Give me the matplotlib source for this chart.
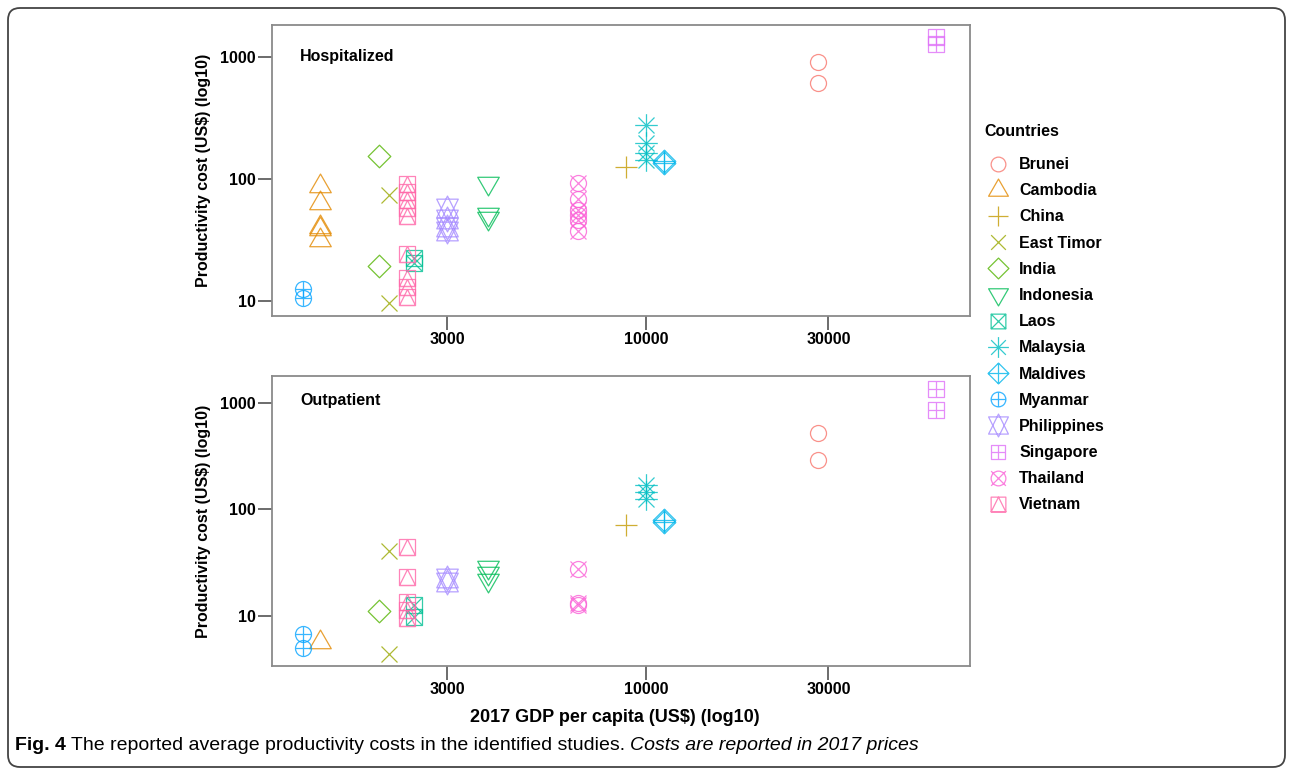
import numpy as np
import matplotlib
matplotlib.use('Agg')
import matplotlib.pyplot as plt
from matplotlib.path import Path
from matplotlib.lines import Line2D
from matplotlib.patches import FancyBboxPatch
from matplotlib.transforms import IdentityTransform

plt.rcParams['font.family'] = ['Liberation Sans', 'DejaVu Sans']

# ---- data ----
countries = ['Brunei', 'Cambodia', 'China', 'East Timor', 'India', 'Indonesia', 'Laos',
             'Malaysia', 'Maldives', 'Myanmar', 'Philippines', 'Singapore', 'Thailand', 'Vietnam']
gdp = [28200, 1388, 8850, 2107, 1983, 3844, 2451, 9990, 11100, 1254, 2999, 57400, 6600, 2349]

hosp_brunei = [915, 615]
hosp_cambodia = [88, 63.5, 41, 39, 31.5]
hosp_china = [126]
hosp_timor = [75, 9.6]
hosp_india = [155, 19.4]
hosp_indonesia = [93, 51.5, 48]
hosp_laos = [22.5, 20.5]
hosp_malaysia = [278, 198, 164, 144]
hosp_maldives = [140, 136]
hosp_myanmar = [12.5, 10.6]
hosp_philippines = [58, 47, 41, 38]
hosp_singapore = [1467, 1286]
hosp_thailand = [93, 68.7, 56, 51, 46.5, 38]
hosp_vietnam = [91, 78.5, 67.6, 58, 50, 24.3, 15.4, 13, 10.8]

out_brunei = [518, 290]
out_cambodia = [5.75]
out_china = [71.3]
out_timor = [40.7, 4.4]
out_india = [11.2]
out_indonesia = [28.8, 25.3, 21.7]
out_laos = [12.7, 9.8]
out_malaysia = [169, 145, 125]
out_maldives = [79, 76]
out_myanmar = [6.8, 5.0]
out_philippines = [22.8, 20.9]
out_singapore = [1348, 857]
out_thailand = [27.6, 13.2, 12.6]
out_vietnam = [44.4, 23.2, 13.6, 11.4, 9.6]

hospitalized = [hosp_brunei, hosp_cambodia, hosp_china, hosp_timor, hosp_india, hosp_indonesia,
                hosp_laos, hosp_malaysia, hosp_maldives, hosp_myanmar, hosp_philippines,
                hosp_singapore, hosp_thailand, hosp_vietnam]
outpatient = [out_brunei, out_cambodia, out_china, out_timor, out_india, out_indonesia,
              out_laos, out_malaysia, out_maldives, out_myanmar, out_philippines,
              out_singapore, out_thailand, out_vietnam]

x_ticks = [3000, 10000, 30000]
y_ticks = [10, 100, 1000]

colors = ['#F8766D', '#E38900', '#C49A00', '#99A800', '#53B400', '#00BC56', '#00C094',
          '#00BFC4', '#00B6EB', '#06A4FF', '#A58AFF', '#DF70F8', '#FB61D7', '#FF66A8']


# ---- R style point shapes (pch 1..14), in units of the circle radius ----
def line(x0, y0, x1, y1):
    return Path([(x0, y0), (x1, y1)], [Path.MOVETO, Path.LINETO])


def poly(pts):
    return Path(list(pts) + [pts[0]], closed=True)


circle = Path.unit_circle()
s2 = np.sqrt(2)
tr0 = 1.5551203
tr1 = tr0 * np.sqrt(3) / 2
tr2 = tr0 / 2
tri_up = poly([(0, tr0), (tr1, -tr2), (-tr1, -tr2)])
tri_dn = poly([(0, -tr0), (tr1, tr2), (-tr1, tr2)])
yc11 = 0.5 * (tr2 + tr0)
square = poly([(-1, -1), (1, -1), (1, 1), (-1, 1)])
diamond = poly([(s2, 0), (0, s2), (-s2, 0), (0, -s2)])

shapes = [
    [circle],
    [tri_up],
    [line(-s2, 0, s2, 0), line(0, -s2, 0, s2)],
    [line(-1, -1, 1, 1), line(-1, 1, 1, -1)],
    [diamond],
    [tri_dn],
    [square, line(-1, -1, 1, 1), line(-1, 1, 1, -1)],
    [line(-1, -1, 1, 1), line(-1, 1, 1, -1), line(-s2, 0, s2, 0), line(0, -s2, 0, s2)],
    [diamond, line(-s2, 0, s2, 0), line(0, -s2, 0, s2)],
    [circle, line(-1, 0, 1, 0), line(0, -1, 0, 1)],
    [poly([(0, -tr0), (tr1, yc11), (-tr1, yc11)]), poly([(0, tr0), (tr1, -yc11), (-tr1, -yc11)])],
    [square, line(-1, 0, 1, 0), line(0, -1, 0, 1)],
    [circle, line(-1, -1, 1, 1), line(-1, 1, 1, -1)],
    [square, poly([(0, 1), (1, -1), (-1, -1)])],
]

R_PT = 8 * 0.72  # circle radius, points


def make_marker(parts):
    p = Path.make_compound_path(*parts)
    ext = np.max(np.abs(p.vertices))
    return p, 2 * ext * R_PT


markers = [make_marker(s) for s in shapes]

# ---- figure ----
fig = plt.figure(figsize=(12.92, 7.74), dpi=100)
W, H = 1292, 774
ax_top = fig.add_axes([272 / W, 1 - 316 / H, 698 / W, 291 / H])
ax_bot = fig.add_axes([272 / W, 1 - 666 / H, 698 / W, 290 / H])

panels = [(ax_top, hospitalized, 'Hospitalized', 0.893, (7.57, 1841)),
          (ax_bot, outpatient, 'Outpatient', 0.917, (3.4, 1774))]

for ax, values, title, ty, ylim in panels:
    for i, name in enumerate(countries):
        vals = values[i]
        mk, ms = markers[i]
        ax.plot([gdp[i]] * len(vals), vals, linestyle='none', marker=mk, ms=ms,
                mec=colors[i], mfc='none', mew=0.9, alpha=0.8)
    ax.set_xscale('log')
    ax.set_yscale('log')
    ax.set_xlim(1041, 70600)
    ax.set_ylim(*ylim)
    ax.minorticks_off()
    ax.set_xticks(x_ticks, [str(t) for t in x_ticks], fontweight='bold')
    ax.set_yticks(y_ticks, [str(t) for t in y_ticks], fontweight='bold')
    ax.tick_params(length=10, width=1.1, color='#444444', pad=1.5, labelsize=11.5,
                   labelcolor='black')
    for sp in ax.spines.values():
        sp.set_color('#8a8a8a')
        sp.set_linewidth(1.3)
    ax.set_ylabel('Productivity cost (US$) (log10)', fontsize=11.5, fontweight='bold')
    ax.yaxis.set_label_coords(-0.0874, 0.5)
    ax.text(0.04, ty, title, transform=ax.transAxes,
            fontsize=11.5, fontweight='bold', ha='left', va='center')

fig.text(615 / W, 1 - 717 / H, '2017 GDP per capita (US$) (log10)', fontsize=13,
         fontweight='bold', ha='center', va='center')

# legend
handles = [Line2D([], [], linestyle='none', marker=markers[i][0], ms=markers[i][1] * 0.92,
                  mec=colors[i], mfc='none', mew=0.9, alpha=0.8)
           for i in range(len(countries))]
leg = fig.legend(handles, countries, loc='upper left', bbox_to_anchor=(984 / W, 1 - 124 / H),
                 frameon=False, title='Countries', alignment='left', borderpad=0,
                 borderaxespad=0, prop={'weight': 'bold', 'size': 11.5},
                 title_fontproperties={'weight': 'bold', 'size': 11.5},
                 handlelength=1.8, handletextpad=0.4, labelspacing=0.7)
leg._legend_box.sep = 0.7 * 11.5 + 5

# caption
cap_font = ['Liberation Sans Narrow', 'Liberation Sans', 'DejaVu Sans']
t1 = fig.text(15 / W, 1 - 754 / H, 'Fig. 4', fontsize=14, fontweight='bold', family=cap_font,
              ha='left', va='bottom')
t2 = fig.axes[0].annotate(' The reported average productivity costs in the identified studies. ',
                          xy=(1, 0), xycoords=t1, ha='left', va='bottom', fontsize=14,
                          family=cap_font, annotation_clip=False)
t3 = fig.axes[0].annotate('Costs are reported in 2017 prices', xy=(1, 0), xycoords=t2,
                          ha='left', va='bottom', fontsize=14, style='italic',
                          family=cap_font, annotation_clip=False)

border = FancyBboxPatch((8, 7), 1277, 759, boxstyle='round,pad=0,rounding_size=12',
                        transform=IdentityTransform(), fill=False, ec='#444444', lw=1.3)
fig.add_artist(border)

fig.savefig('out.png', dpi=100)
